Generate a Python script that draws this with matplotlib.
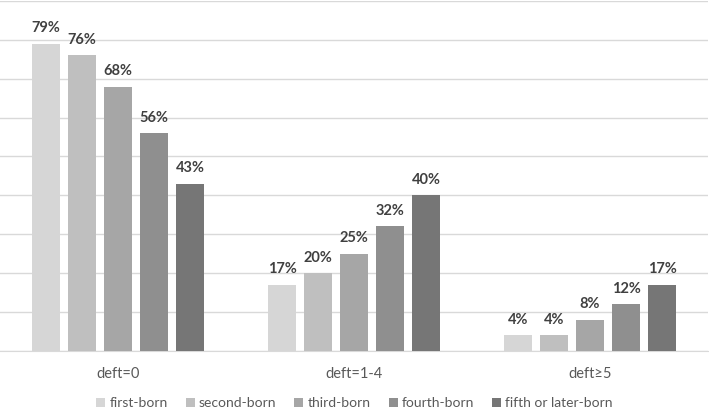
import matplotlib.pyplot as plt
import numpy as np

categories = ["deft=0", "deft=1-4", "deft≥5"]
series_names = ["first-born", "second-born", "third-born", "fourth-born", "fifth or later-born"]
first_born = [79, 17, 4]
second_born = [76, 20, 4]
third_born = [68, 25, 8]
fourth_born = [56, 32, 12]
fifth_born = [43, 40, 17]
colors = ["#d6d6d6", "#bfbfbf", "#a6a6a6", "#8f8f8f", "#767676"]

plt.rcParams['font.family'] = ['Lato', 'DejaVu Sans']

fig = plt.figure(figsize=(7.09, 4.08), dpi=100)
ax = fig.add_axes([0.0, 0.14, 0.9986, 0.8576])

x = np.arange(len(categories))
pitch = 0.1525
width = 0.119
all_series = [first_born, second_born, third_born, fourth_born, fifth_born]
for i, (name, vals) in enumerate(zip(series_names, all_series)):
    pos = x + (i - 2) * pitch
    ax.bar(pos, vals, width=width, color=colors[i], label=name, zorder=3)
    for p, v in zip(pos, vals):
        ax.annotate(f"{v}%", (p, v), xytext=(0, 6), textcoords="offset points",
                    ha="center", va="bottom", fontsize=10.5, fontweight="bold",
                    color="#404040")

ax.set_xlim(-0.5, 2.5)
ax.set_ylim(0, 90)
ax.set_yticks(range(0, 91, 10))
ax.yaxis.grid(True, color="#d9d9d9", linewidth=1, zorder=0)
ax.tick_params(axis="y", left=False, labelleft=False)
ax.tick_params(axis="x", bottom=False, labelsize=10.5, labelcolor="#595959", pad=8)
ax.set_xticks(x)
ax.set_xticklabels(categories)
for s in ["top", "right", "left"]:
    ax.spines[s].set_visible(False)
ax.spines["bottom"].set_color("#d9d9d9")

fig.legend(loc="center", bbox_to_anchor=(0.5, 0.012), ncol=5, frameon=False,
           fontsize=10, handlelength=0.65, handleheight=0.65, handletextpad=0.3,
           columnspacing=1.3, labelcolor="#595959", borderpad=0)

fig.savefig("out.png", dpi=100)
